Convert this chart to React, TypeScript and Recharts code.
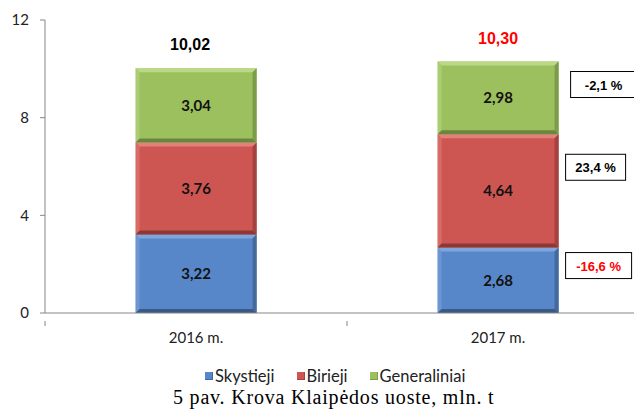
import React from "react";
import { BarChart, Bar, XAxis, YAxis, LabelList } from "recharts";

const categories = ["2016 m.", "2017 m."];
const skystieji = [3.22, 2.68];
const birieji = [3.76, 4.64];
const generaliniai = [3.04, 2.98];
const yTicks = [0, 4, 8, 12];
const changeSkystieji = ["", "-16,6 %"];
const changeBirieji = ["", "23,4 %"];
const changeGeneraliniai = ["", "-2,1 %"];
const caption = "5 pav. Krova Klaipėdos uoste, mln. t";

const data = categories.map((c, i) => ({
  name: c,
  Skystieji: skystieji[i],
  Birieji: birieji[i],
  Generaliniai: generaliniai[i],
  total: skystieji[i] + birieji[i] + generaliniai[i],
}));

const totalColors = ["#000000", "#FF0000"];
const FONT = "Lato, 'Open Sans', sans-serif";
const ARIAL = "'Liberation Sans', Arial, sans-serif";
const CHART_W = 650;
const MARGIN = { top: 20, right: 1, left: 0, bottom: 0 };
const Y_W = 45;
const PLOT_W = CHART_W - MARGIN.left - MARGIN.right - Y_W;
const BAND = PLOT_W / categories.length;

const series = [
  { key: "Skystieji", base: "#5887C9", light: "#7EA6DC", dark: "#44699C", darker: "#3A5A86", change: changeSkystieji, changeColor: "#FF0000", boxDy: 5, boxDx: 7, boxW: 66 },
  { key: "Birieji", base: "#CD5653", light: "#E57F7B", dark: "#A4423F", darker: "#8C3936", change: changeBirieji, changeColor: "#000000", boxDy: 20, boxDx: 7, boxW: 60 },
  { key: "Generaliniai", base: "#9CC05E", light: "#BAD885", dark: "#7D9C49", darker: "#6B863E", change: changeGeneraliniai, changeColor: "#000000", boxDy: 10, boxDx: 12, boxW: 66 },
];

const fmt = (v: number) => v.toFixed(2).replace(".", ",");

const Bevel = (props: any) => {
  const { x, y, width: w, height: h, base, light, dark, darker } = props;
  if (!w || !h) return null;
  const b = 4;
  return (
    <g>
      <rect x={x} y={y} width={w} height={h} fill={base} />
      <polygon points={`${x},${y} ${x + w},${y} ${x + w - b},${y + b} ${x + b},${y + b}`} fill={light} />
      <polygon points={`${x},${y} ${x + b},${y + b} ${x + b},${y + h - b} ${x},${y + h}`} fill={light} opacity={0.5} />
      <polygon points={`${x + w},${y} ${x + w},${y + h} ${x + w - b},${y + h - b} ${x + w - b},${y + b}`} fill={dark} />
      <polygon points={`${x},${y + h} ${x + b},${y + h - b} ${x + w - b},${y + h - b} ${x + w},${y + h}`} fill={darker} />
    </g>
  );
};

const XTick = (props: any) => {
  const { x, y, payload, index } = props;
  return (
    <g>
      {index === 0 && (
        <>
          <line x1={x - BAND / 2} y1={y} x2={x - BAND / 2} y2={y + 5} stroke="#868686" />
          <line x1={x + BAND / 2} y1={y} x2={x + BAND / 2} y2={y + 5} stroke="#868686" />
        </>
      )}
      <text x={x} y={y + 22} textAnchor="middle" fontFamily={FONT} fontSize={15} fill="#222">
        {payload.value}
      </text>
    </g>
  );
};

const makeChangeLabel = (s: any) => (props: any) => {
  const { x, y, width, index } = props;
  const txt = s.change[index];
  if (!txt) return null;
  const bx = x + width + s.boxDx;
  const by = y + s.boxDy;
  return (
    <g>
      <rect x={bx} y={by} width={s.boxW} height={26} fill="#fff" stroke="#000" strokeWidth={1} />
      <text x={bx + s.boxW / 2} y={by + 18} textAnchor="middle" fontFamily={ARIAL} fontWeight="bold" fontSize={13} fill={s.changeColor}>
        {txt}
      </text>
    </g>
  );
};

const TotalLabel = (props: any) => {
  const { x, y, width, index } = props;
  return (
    <text x={x + width / 2 - (index === 0 ? 6 : 0)} y={y - 18} textAnchor="middle" fontFamily={ARIAL} fontWeight="bold" fontSize={16} fill={totalColors[index]}>
      {fmt(data[index].total)}
    </text>
  );
};

export default function App() {
  return (
    <div style={{ position: "absolute", left: 0, top: 0, width: 634, height: 414, overflow: "hidden", background: "#fff" }}>
      <BarChart width={CHART_W} height={355} data={data} margin={MARGIN} barCategoryGap="30%">
        <YAxis
          domain={[0, 12]}
          ticks={yTicks}
          width={Y_W}
          tickSize={5}
          tickMargin={11}
          stroke="#868686"
          tick={{ fontFamily: FONT, fontSize: 15, fill: "#222" }}
          interval={0}
        />
        <XAxis dataKey="name" height={42} tickLine={false} stroke="#868686" tick={<XTick />} interval={0} />
        {series.map((s) => (
          <Bar
            key={s.key}
            dataKey={s.key}
            stackId="a"
            isAnimationActive={false}
            fill={s.base}
            shape={(p: any) => <Bevel {...p} base={s.base} light={s.light} dark={s.dark} darker={s.darker} />}
          >
            <LabelList
              dataKey={s.key}
              position="center"
              formatter={(v: any) => fmt(Number(v))}
              style={{ fontFamily: FONT, fontWeight: "bold", fontSize: 15, fill: "#111" }}
            />
            <LabelList dataKey={s.key} content={makeChangeLabel(s)} />
            {s.key === "Generaliniai" && <LabelList dataKey={s.key} content={<TotalLabel />} />}
          </Bar>
        ))}
      </BarChart>
      <div style={{ position: "absolute", top: 366, left: 205, display: "flex", fontFamily: FONT, fontSize: 16.5, color: "#222", whiteSpace: "nowrap" }}>
        {series.map((s) => (
          <div key={s.key} style={{ display: "flex", alignItems: "center", marginRight: 22 }}>
            <span style={{ display: "inline-block", width: 7, height: 7, background: s.base, borderRight: `1px solid ${s.dark}`, borderBottom: `1px solid ${s.dark}`, marginRight: 2 }} />
            <span>{s.key}</span>
          </div>
        ))}
      </div>
      <div style={{ position: "absolute", top: 386, left: 173, fontFamily: "'Liberation Serif', 'Times New Roman', serif", fontSize: 20, letterSpacing: 0.8, color: "#000", whiteSpace: "nowrap" }}>
        {caption}
      </div>
    </div>
  );
}
